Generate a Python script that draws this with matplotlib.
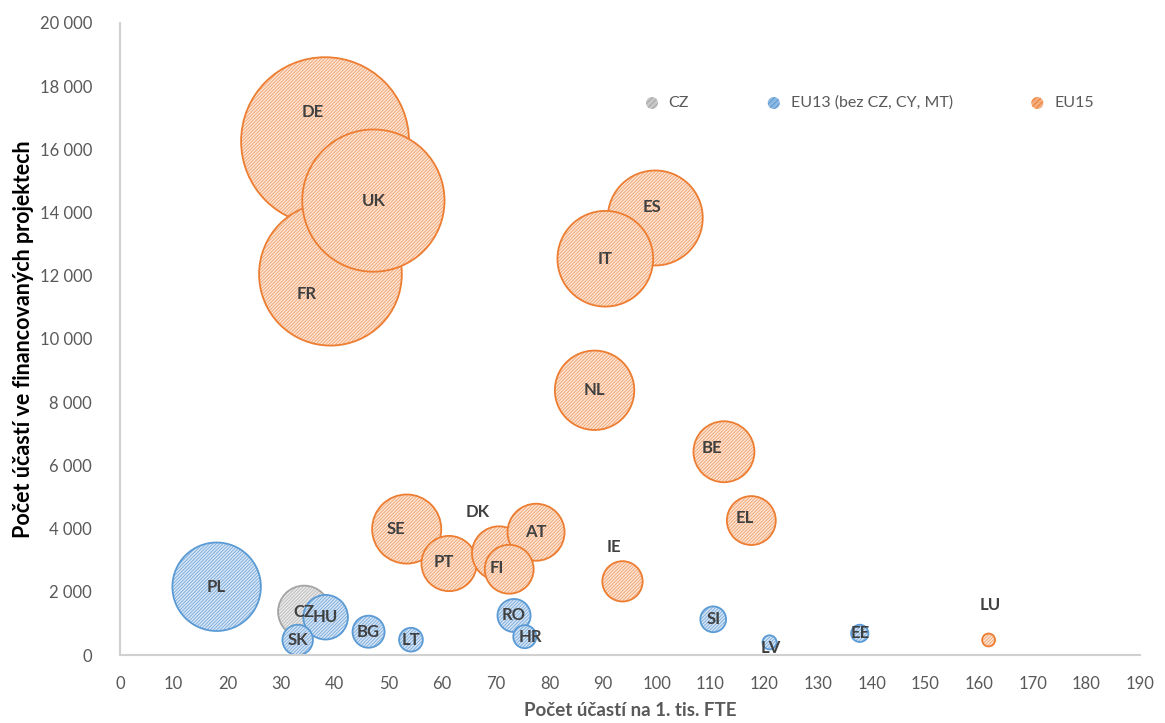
import matplotlib
matplotlib.use('Agg')
import matplotlib.pyplot as plt
from matplotlib.ticker import FuncFormatter

plt.rcParams['font.family'] = ['Lato', 'DejaVu Sans']
plt.rcParams['hatch.linewidth'] = 0.7

# data: x = ucasti na 1 tis. FTE, y = pocet ucasti, size = FTE (tis.)
cz_names = ['CZ']
cz_x = [34.3]
cz_y = [1370]
cz_size = [41]

eu13_names = ['PL', 'HU', 'SK', 'BG', 'LT', 'RO', 'HR', 'SI', 'LV', 'EE']
eu13_x = [18.0, 38.3, 33.1, 46.3, 54.2, 73.4, 75.4, 110.5, 121.0, 137.8]
eu13_y = [2160, 1196, 475, 737, 484, 1250, 580, 1130, 400, 685]
eu13_size = [118, 30, 14, 15.5, 8.5, 16.5, 8, 10, 3, 4.5]

eu15_names = ['DE', 'FR', 'UK', 'ES', 'IT', 'NL', 'BE', 'EL', 'SE', 'PT',
              'DK', 'AT', 'FI', 'IE', 'LU']
eu15_x = [38.2, 39.2, 47.2, 99.7, 90.4, 88.4, 112.5, 117.6, 53.4, 61.3,
          70.6, 77.5, 72.5, 93.6, 161.8]
eu15_y = [16260, 12050, 14380, 13830, 12540, 8377, 6432, 4255, 3986, 2895,
          3217, 3885, 2714, 2331, 475]
eu15_size = [425, 307, 305, 136, 138, 95, 56, 36, 72, 46, 44, 49, 36, 24.5, 2.5]

# label offsets in points (where Excel labels were moved)
label_offsets = {'DE': (-9, 21), 'FR': (-17, -14), 'ES': (-2, 8), 'BE': (-9, 3),
                 'EL': (-5, 2), 'SE': (-8, 0), 'PT': (-4, 1), 'DK': (-15, 30),
                 'FI': (-9, 1), 'IE': (-6, 25), 'HR': (4, 0), 'LV': (1, -4),
                 'LU': (1, 25)}

SCALE = 34.4  # size -> marker area (pt^2)
HATCH = '//////////'

fig = plt.figure(figsize=(11.65, 7.23), dpi=100)
ax = fig.add_axes([120 / 1165, 1 - 655 / 723, 1020 / 1165, 632 / 723])


def bubbles(names, xs, ys, sizes, fill, hatch_col, edge):
    for n, x, y, s in zip(names, xs, ys, sizes):
        ax.scatter([x], [y], s=s * SCALE, facecolors=fill, edgecolors=hatch_col,
                   linewidths=0, hatch=HATCH, zorder=2)
        ax.scatter([x], [y], s=s * SCALE, facecolors='none', edgecolors=edge,
                   linewidths=1.3, zorder=2)
        dx, dy = label_offsets.get(n, (0, 0))
        ax.annotate(n, (x, y), xytext=(dx, dy), textcoords='offset points',
                    ha='center', va='center', fontsize=12, fontweight='bold',
                    color='#404040', zorder=5)


gray = ('#EBEBEB', '#BDBDBD', '#A5A5A5')
blue = ('#DAE8F6', '#7FAEDD', '#5B9BD5')
orange = ('#FCE6D7', '#F3A877', '#ED7D31')

bubbles(cz_names, cz_x, cz_y, cz_size, *gray)
bubbles(eu13_names, eu13_x, eu13_y, eu13_size, *blue)
bubbles(eu15_names, eu15_x, eu15_y, eu15_size, *orange)

ax.set_xlim(0, 190)
ax.set_ylim(0, 20000)
ax.set_xticks(range(0, 191, 10))
ax.set_yticks(range(0, 20001, 2000))
ax.yaxis.set_major_formatter(FuncFormatter(lambda v, p: f'{int(v):,}'.replace(',', ' ')))
ax.tick_params(length=0, labelsize=12, labelcolor='#595959')
ax.tick_params(axis='x', pad=15)
ax.tick_params(axis='y', pad=20)

for side in ['top', 'right']:
    ax.spines[side].set_visible(False)
for side in ['left', 'bottom']:
    ax.spines[side].set_color('#D0D0D0')
    ax.spines[side].set_linewidth(1.5)

ax.set_xlabel('Počet účastí na 1. tis. FTE', fontsize=13.5, fontweight='bold',
              color='#595959')
ax.xaxis.set_label_coords(0.5, -0.074)
ax.set_ylabel('Počet účastí ve financovaných projektech', fontsize=15.5,
              fontweight='bold', color='black')
ax.yaxis.set_label_coords(-0.084, 0.5)

# legend
h1 = ax.scatter([], [], s=75, facecolors='#C8C8C8', edgecolors='#A5A5A5', hatch='//////', linewidths=0)
h2 = ax.scatter([], [], s=75, facecolors='#8DB8E2', edgecolors='#5B9BD5', hatch='//////', linewidths=0)
h3 = ax.scatter([], [], s=75, facecolors='#F4AD7E', edgecolors='#ED7D31', hatch='//////', linewidths=0)
leg = fig.legend([h1, h2, h3], ['CZ', 'EU13 (bez CZ, CY, MT)', 'EU15'], ncol=3,
                 loc='center left', bbox_to_anchor=(628 / 1165, 1 - 103 / 723),
                 frameon=False, fontsize=11.5, handletextpad=0.05,
                 columnspacing=4.3, borderpad=0, scatterpoints=1)
for t in leg.get_texts():
    t.set_color('#595959')

fig.savefig('out.png', dpi=100)
